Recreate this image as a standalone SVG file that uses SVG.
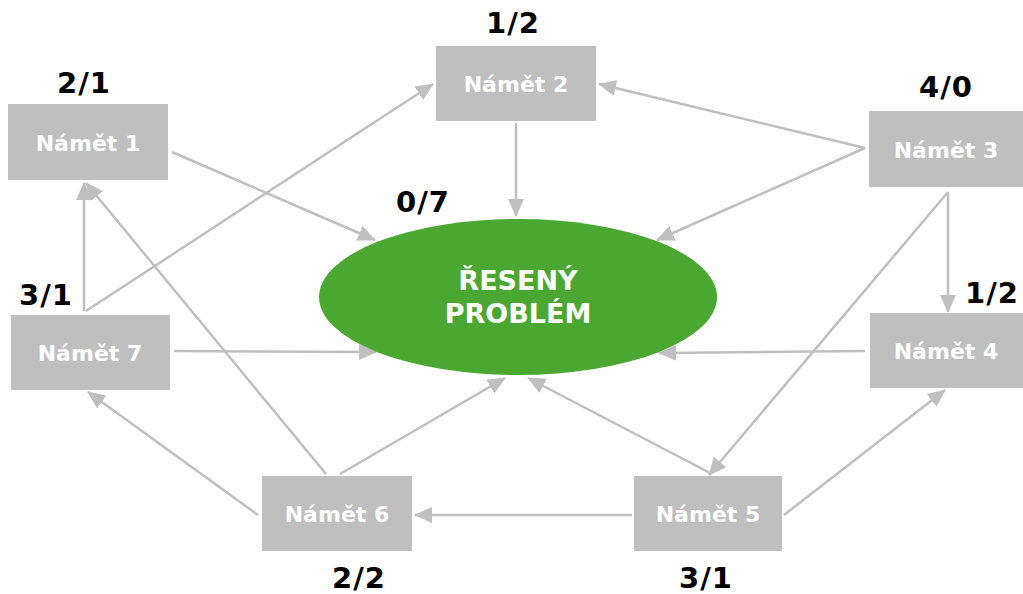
<svg xmlns="http://www.w3.org/2000/svg" width="1023" height="594" viewBox="0 0 1023 594">
  <style>
    .box { fill: #bfbfbf; }
    .name { font-family: "DejaVu Sans", Verdana, sans-serif; font-weight: bold; font-size: 22px; fill: #ffffff; text-anchor: middle; }
    .score { font-family: "DejaVu Sans", Verdana, sans-serif; font-weight: bold; font-size: 29px; letter-spacing: 1px; fill: #000000; text-anchor: middle; }
    .core { font-family: "DejaVu Sans", Verdana, sans-serif; font-weight: bold; font-size: 27px; fill: #ffffff; text-anchor: middle; }
    .edge { stroke: #bfbfbf; stroke-width: 2.5; fill: none; marker-end: url(#arrow); }
  </style>
  <defs>
    <marker id="arrow" markerUnits="userSpaceOnUse" markerWidth="18" markerHeight="16" viewBox="0 0 18 16" refX="17" refY="8" orient="auto">
      <path d="M0,0 L18,8 L0,16 Z" fill="#bfbfbf"/>
    </marker>
  </defs>
  <rect width="1023" height="594" fill="#ffffff"/>

  <!-- connectors -->
  <g id="connectors">
    <line class="edge" x1="172" y1="152" x2="375" y2="240"/>
    <line class="edge" x1="516" y1="123" x2="516" y2="216"/>
    <line class="edge" x1="865" y1="148" x2="599" y2="84"/>
    <line class="edge" x1="865" y1="148" x2="657" y2="240"/>
    <line class="edge" x1="948" y1="192" x2="948" y2="312"/>
    <line class="edge" x1="948" y1="192" x2="709" y2="475"/>
    <line class="edge" x1="865" y1="351" x2="659" y2="353"/>
    <line class="edge" x1="784" y1="515" x2="945" y2="390"/>
    <line class="edge" x1="632" y1="515" x2="415" y2="515"/>
    <line class="edge" x1="712" y1="474" x2="528" y2="378"/>
    <line class="edge" x1="340" y1="474" x2="505" y2="378"/>
    <line class="edge" x1="326" y1="474" x2="86" y2="183"/>
    <line class="edge" x1="258" y1="515" x2="88" y2="392"/>
    <line class="edge" x1="174" y1="351" x2="376" y2="352"/>
    <line class="edge" x1="84" y1="311" x2="84" y2="183"/>
    <line class="edge" x1="86" y1="311" x2="433" y2="84"/>
  </g>

  <!-- central problem -->
  <g id="problem">
    <ellipse cx="518" cy="297" rx="199" ry="78" fill="#4aa832"/>
    <text class="core" x="518" y="290">ŘESENÝ</text>
    <text class="core" x="518" y="323">PROBLÉM</text>
    <text class="score" x="423" y="212">0/7</text>
  </g>

  <g id="namet1">
    <rect class="box" x="8" y="104" width="160" height="76"/>
    <text class="name" x="88" y="151">Námět 1</text>
    <text class="score" x="84" y="93">2/1</text>
  </g>
  <g id="namet2">
    <rect class="box" x="436" y="46" width="160" height="75"/>
    <text class="name" x="516" y="92">Námět 2</text>
    <text class="score" x="513" y="33">1/2</text>
  </g>
  <g id="namet3">
    <rect class="box" x="869" y="111" width="154" height="76"/>
    <text class="name" x="946" y="158">Námět 3</text>
    <text class="score" x="946" y="97">4/0</text>
  </g>
  <g id="namet4">
    <rect class="box" x="870" y="313" width="153" height="75"/>
    <text class="name" x="946" y="359">Námět 4</text>
    <text class="score" x="992" y="303">1/2</text>
  </g>
  <g id="namet5">
    <rect class="box" x="634" y="476" width="148" height="75"/>
    <text class="name" x="708" y="522">Námět 5</text>
    <text class="score" x="706" y="588">3/1</text>
  </g>
  <g id="namet6">
    <rect class="box" x="262" y="476" width="150" height="75"/>
    <text class="name" x="337" y="522">Námět 6</text>
    <text class="score" x="359" y="588">2/2</text>
  </g>
  <g id="namet7">
    <rect class="box" x="11" y="315" width="159" height="75"/>
    <text class="name" x="90" y="361">Námět 7</text>
    <text class="score" x="46" y="305">3/1</text>
  </g>
</svg>
